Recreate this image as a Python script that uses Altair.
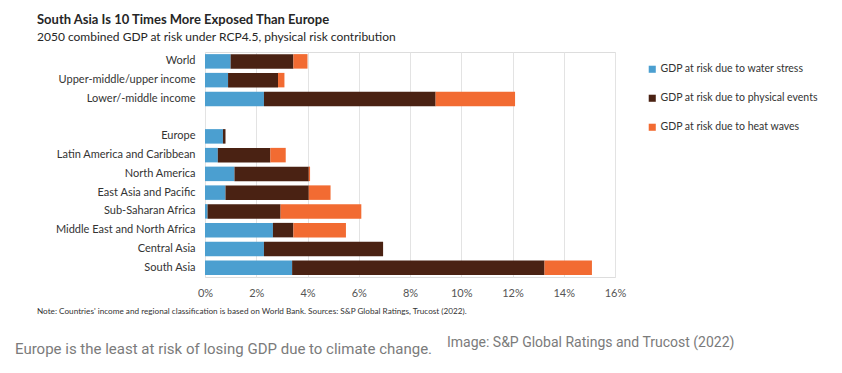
import altair as alt
import pandas as pd

categories = ["World", "Upper-middle/upper income", "Lower/-middle income", " ",
              "Europe", "Latin America and Caribbean", "North America",
              "East Asia and Pacific", "Sub-Saharan Africa",
              "Middle East and North Africa", "Central Asia", "South Asia"]
water = [1.0, 0.9, 2.3, None, 0.7, 0.5, 1.15, 0.8, 0.1, 2.65, 2.3, 3.4]
physical = [2.45, 1.95, 6.7, None, 0.1, 2.05, 2.9, 3.25, 2.85, 0.8, 4.65, 9.85]
heat = [0.55, 0.25, 3.1, None, 0.0, 0.6, 0.05, 0.85, 3.15, 2.05, 0.0, 1.85]
series = ["GDP at risk due to water stress", "GDP at risk due to physical events",
          "GDP at risk due to heat waves"]
colors = ["#4b9fd0", "#4a2213", "#f26b32"]
x_ticks = [0, 2, 4, 6, 8, 10, 12, 14, 16]

rows = []
for i, c in enumerate(categories):
    for k, vals in enumerate([water, physical, heat]):
        if vals[i] is not None:
            rows.append({"region": c, "series": series[k], "order": k, "value": vals[i]})
df = pd.DataFrame(rows)

FONT = "Lato"

bars = alt.Chart(df).mark_bar(size=14.5).encode(
    y=alt.Y("region:N", scale=alt.Scale(domain=categories, paddingInner=0.22, paddingOuter=0.11),
            axis=alt.Axis(title=None, ticks=False, domain=False, grid=False,
                          labelFont=FONT, labelFontSize=11, labelColor="#333333",
                          labelPadding=10)),
    x=alt.X("sum(value):Q", stack="zero",
            scale=alt.Scale(domain=[0, 16], nice=False),
            axis=alt.Axis(title=None, values=x_ticks, labelExpr="datum.value + '%'",
                          ticks=False, domain=False, gridColor="#e3e3e3",
                          labelFlush=False,
                          labelFont=FONT, labelFontSize=11, labelColor="#555555",
                          labelPadding=10)),
    color=alt.Color("series:N", scale=alt.Scale(domain=series, range=colors),
                    legend=alt.Legend(title=None, orient="none", legendX=442, legendY=12,
                                      symbolType="square", symbolSize=50,
                                      symbolStrokeWidth=0,
                                      labelFont=FONT, labelFontSize=10.5,
                                      labelColor="#333333", rowPadding=18,
                                      labelOffset=3)),
    order=alt.Order("order:Q"),
)

one = pd.DataFrame({"a": [0]})

def txt(t, x, y, size, color, weight="normal", font=FONT, baseline="alphabetic"):
    return alt.Chart(one).mark_text(
        text=t, align="left", baseline=baseline, font=font, fontSize=size,
        color=color, fontWeight=weight
    ).encode(x=alt.value(x), y=alt.value(y))

title = txt("South Asia Is 10 Times More Exposed Than Europe", -168, -28, 13, "#262626", "bold")
subtitle = txt("2050 combined GDP at risk under RCP4.5, physical risk contribution", -168, -11, 12, "#262626")
note = txt("Note: Countries' income and regional classification is based on World Bank. Sources: S&P Global Ratings, Trucost (2022).",
           -168, 262, 8.2, "#333333")
caption = txt("Europe is the least at risk of losing GDP due to climate change.", -190, 302, 15,
              "#7b7b7b", font="Roboto")
credit = txt("Image: S&P Global Ratings and Trucost (2022)", 242, 295, 14, "#7b7b7b", font="Roboto")

chart = alt.layer(bars, title, subtitle, note, caption, credit).properties(
    width=410, height=225,
    autosize=alt.AutoSizeParams(type="none"),
    padding={"left": 197, "top": 44, "right": 219, "bottom": 88},
).configure_view(stroke=None).configure(background="white")

chart.save("out.html", embed_options={"renderer": "svg", "actions": False})
